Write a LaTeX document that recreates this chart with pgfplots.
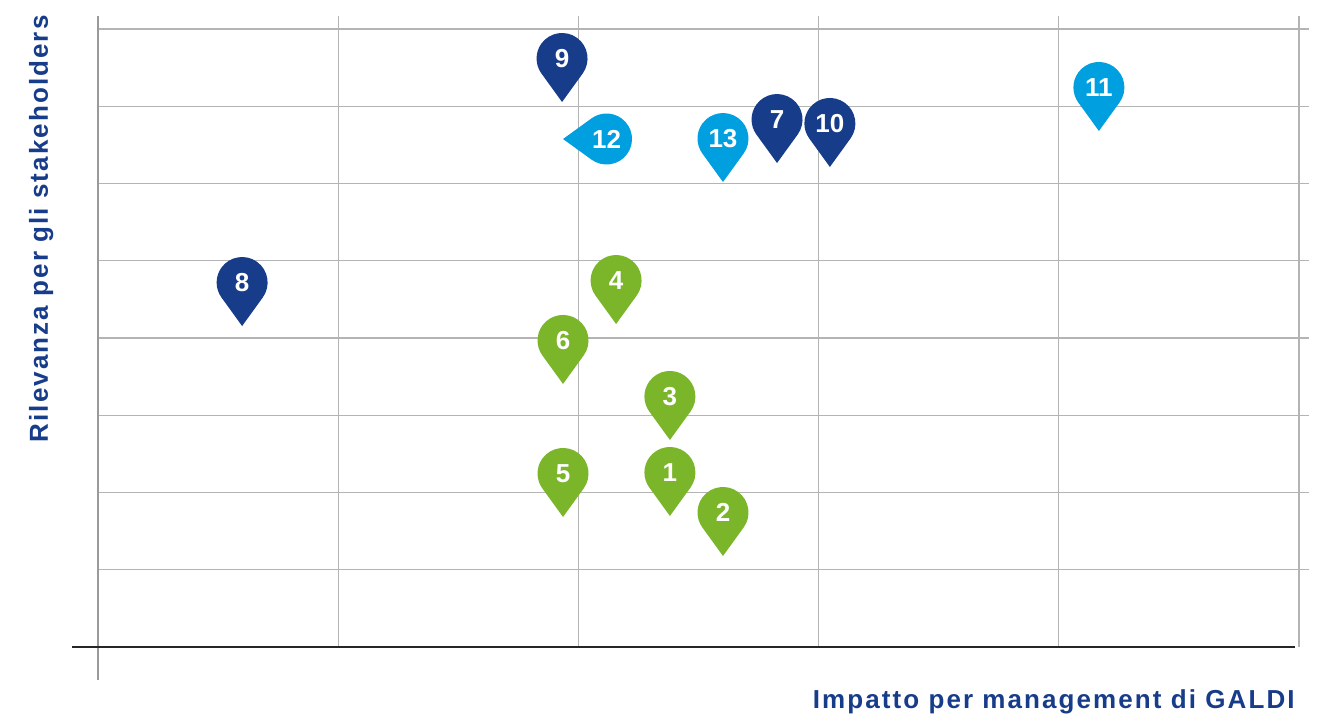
\documentclass[border=0pt]{standalone}
\usepackage{pgfplots}
\pgfplotsset{compat=1.18}
\usepackage{fontspec}
\setmainfont{Liberation Sans}
\newfontfamily\labfont{Liberation Sans}[LetterSpace=8]

\definecolor{navy}{HTML}{173C8A}
\definecolor{sky}{HTML}{009FDF}
\definecolor{leaf}{HTML}{7AB52A}
\definecolor{gridg}{HTML}{B4B4B4}
\definecolor{axg}{HTML}{9A9A9A}

% map pin: tip at the data point, round head above it
\pgfdeclareplotmark{pin}{%
  \pgfpathmoveto{\pgfpointorigin}%
  \pgfpathlineto{\pgfpointadd{\pgfpoint{0pt}{21.75pt}}{\pgfpointpolar{-35.9}{12.75pt}}}%
  \pgfpatharc{-35.9}{215.9}{12.75pt}%
  \pgfpathclose
  \pgfusepathqfill
}

\begin{document}
\begin{tikzpicture}
\useasboundingbox (-49pt,-33pt) rectangle (615.5pt,323.5pt);
\begin{axis}[
    at={(0pt,0pt)}, anchor=south west,
    scale only axis,
    width=600.5pt, height=309pt,
    xmin=0, xmax=5, ymin=0, ymax=8,
    axis lines=none,
    clip=false,
    nodes near coords,
    point meta=explicit symbolic,
    nodes near coords style={anchor=center, yshift=21.75pt, text=white,
        font=\bfseries\fontsize{13}{13}\selectfont},
]
% grid
\pgfplotsinvokeforeach{1,...,8}{
    \draw[gridg, line width=0.6pt] (axis cs:0,#1) -- (axis cs:5.042,#1);
}
\pgfplotsinvokeforeach{1,...,5}{
    \draw[gridg, line width=0.6pt] (axis cs:#1,0) -- (axis cs:#1,8.168);
}
\draw[axg, line width=1.1pt] (axis cs:0,-0.427) -- (axis cs:0,8.168);
\draw[black!85, line width=0.6pt] (axis cs:-0.108,0) -- (axis cs:4.983,0);

\addplot[only marks, mark=pin, color=navy] coordinates {
    (2.827,6.265) [7]
    (0.600,4.155) [8]
    (1.932,7.055) [9]
    (3.047,6.214) [10]
};
\addplot[only marks, mark=pin, color=sky] coordinates {
    (4.167,6.680) [11]
    (2.602,6.019) [13]
};
\addplot[only marks, mark=pin, color=sky, mark options={rotate=-90},
    nodes near coords style={yshift=-21.75pt, xshift=21.75pt}] coordinates {
    (1.936,6.576) [12]
};
\addplot[only marks, mark=pin, color=leaf] coordinates {
    (2.381,1.696) [1]
    (2.602,1.178) [2]
    (2.381,2.680) [3]
    (2.157,4.181) [4]
    (1.936,1.683) [5]
    (1.936,3.405) [6]
};
\end{axis}
\node[anchor=base east, inner sep=0pt, text=navy, font=\labfont\bfseries\fontsize{13}{13}\selectfont]
    at (598.5pt,-30.5pt) {Impatto per management di GALDI};
\node[anchor=base east, rotate=90, inner sep=0pt, text=navy, font=\labfont\bfseries\fontsize{13}{13}\selectfont]
    at (-25pt,316pt) {Rilevanza per gli stakeholders};
\end{tikzpicture}
\end{document}
